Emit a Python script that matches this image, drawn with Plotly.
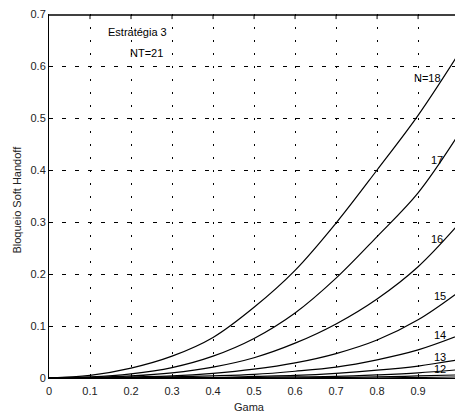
import plotly.graph_objects as go

gama = [0, 0.1, 0.2, 0.3, 0.4, 0.5, 0.6, 0.7, 0.8, 0.9, 1.0]
n18 = [0, 0.005, 0.019, 0.042, 0.078, 0.136, 0.207, 0.298, 0.400, 0.505, 0.625]
n17 = [0, 0.002, 0.008, 0.020, 0.042, 0.076, 0.125, 0.192, 0.272, 0.356, 0.470]
n16 = [0, 0.001, 0.004, 0.010, 0.021, 0.039, 0.067, 0.104, 0.152, 0.214, 0.297]
n15 = [0, 0.0, 0.002, 0.004, 0.009, 0.017, 0.029, 0.047, 0.073, 0.112, 0.166]
n14 = [0, 0.0, 0.001, 0.002, 0.004, 0.007, 0.013, 0.021, 0.035, 0.054, 0.082]
n13 = [0, 0.0, 0.0, 0.001, 0.001, 0.003, 0.005, 0.009, 0.015, 0.023, 0.035]
n12 = [0, 0.0, 0.0, 0.0, 0.0, 0.001, 0.002, 0.003, 0.006, 0.010, 0.016]
n11 = [0, 0.0, 0.0, 0.0, 0.0, 0.0, 0.0, 0.001, 0.002, 0.004, 0.006]
n10 = [0, 0.0, 0.0, 0.0, 0.0, 0.0, 0.0, 0.0, 0.0, 0.001, 0.002]
series = [n18, n17, n16, n15, n14, n13, n12, n11, n10]

curve_labels = ["N=18", "17", "16", "15", "14", "13", "12"]
label_x = [0.924, 0.946, 0.946, 0.954, 0.954, 0.954, 0.954]
label_y = [0.577, 0.419, 0.267, 0.158, 0.083, 0.040, 0.017]

x_ticks = [0, 0.1, 0.2, 0.3, 0.4, 0.5, 0.6, 0.7, 0.8, 0.9]
y_ticks = [0, 0.1, 0.2, 0.3, 0.4, 0.5, 0.6, 0.7]

FONT = "Liberation Sans, Arial, sans-serif"

fig = go.Figure()
for s in series:
    fig.add_trace(go.Scatter(x=gama, y=s, mode="lines",
                             line=dict(color="black", width=1.2, shape="spline"),
                             showlegend=False, hoverinfo="skip"))

for t, lx, ly in zip(curve_labels, label_x, label_y):
    fig.add_annotation(x=lx, y=ly, text=t, showarrow=False,
                       font=dict(family=FONT, size=11, color="black"))

fig.add_annotation(x=0.215, y=0.665, text="Estratégia 3", showarrow=False,
                   font=dict(family=FONT, size=11, color="black"))
fig.add_annotation(x=0.237, y=0.625, text="NT=21", showarrow=False,
                   font=dict(family=FONT, size=11, color="black"))

# axis titles
fig.add_annotation(xref="paper", yref="paper", x=0.495, y=-0.08, text="Gama",
                   xanchor="center", yanchor="middle",
                   showarrow=False, font=dict(family=FONT, size=11, color="#222"))
fig.add_annotation(xref="paper", yref="paper", x=-0.079, y=0.49,
                   text="Bloqueio Soft Handoff", textangle=-90,
                   xanchor="center", yanchor="middle",
                   showarrow=False, font=dict(family=FONT, size=11, color="#222"))

# top border of the axes box and its inside ticks
fig.add_shape(type="line", xref="paper", yref="paper", x0=0, x1=1, y0=0.997, y1=0.997,
              line=dict(color="black", width=1.5), layer="above")
for xt in x_ticks[1:]:
    fig.add_shape(type="line", xref="x", yref="paper", x0=xt, x1=xt, y0=0.997, y1=0.986,
                  line=dict(color="black", width=1), layer="above")

fig.update_layout(
    width=455, height=414,
    margin=dict(l=49, r=0, t=14, b=36, autoexpand=False),
    paper_bgcolor="white", plot_bgcolor="white",
    font=dict(family=FONT, size=11, color="#222"),
    xaxis=dict(range=[0, 0.99], tickvals=x_ticks, ticktext=[str(v) for v in x_ticks],
               showline=True, linecolor="black", linewidth=1,
               ticks="inside", ticklen=4, tickcolor="black", automargin=False,
               ticklabelstandoff=3,
               showgrid=True, gridcolor="black", gridwidth=1, griddash="2px,11px",
               zeroline=False),
    yaxis=dict(range=[0, 0.7], tickvals=y_ticks, ticktext=[str(v) for v in y_ticks],
               showline=True, linecolor="black", linewidth=1,
               ticks="inside", ticklen=4, tickcolor="black", automargin=False,
               showgrid=True, gridcolor="black", gridwidth=1, griddash="4px,9px",
               zeroline=False),
)

fig.write_html("out.html", config={"displayModeBar": False, "staticPlot": True},
               post_script="document.body.style.margin='0';document.body.style.overflow='hidden';")
